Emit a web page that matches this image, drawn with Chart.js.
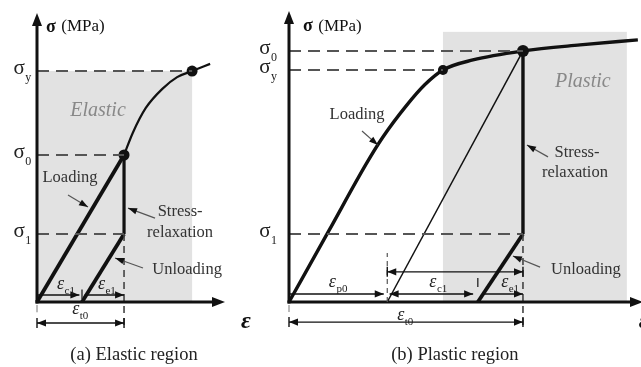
<!DOCTYPE html>
<html><head><meta charset="utf-8">
<script src="https://cdn.jsdelivr.net/npm/chart.js@4/dist/chart.umd.min.js"></script>
<style>
html,body{margin:0;padding:0;background:#fff;overflow:hidden;width:641px;height:367px;}
#wrapA{position:absolute;left:0;top:0;width:260px;height:367px;}
#wrapB{position:absolute;left:240px;top:0;width:430px;height:367px;}
</style></head>
<body>
<div id="wrapA"><canvas id="ca" width="260" height="367"></canvas></div>
<div id="wrapB"><canvas id="cb" width="430" height="367"></canvas></div>
<script>
// ---------- Panel (a): elastic region (strain normalised by ε_t0, stress by σ0) ----------
const aCurveStrain = [1.0, 1.10, 1.25, 1.44, 1.61, 1.782, 1.989];
const aCurveStress = [1.0, 1.15, 1.32, 1.45, 1.53, 1.571, 1.62];
const aStressLevels = [0.463, 1.0, 1.571];          // σ1, σ0, σy
const aStressNames  = ['1', '0', 'y'];
const aStrainMarks  = [0.517, 1.0, 1.782];          // unloading intercept, ε_t0, yield strain
const aStrainNames  = ['c1', 'e1', 't0'];

// ---------- Panel (b): plastic region ----------
const bCurveStrain = [0, 0.17, 0.33, 0.40, 0.50, 0.58, 0.658, 0.786, 1.0, 1.244, 1.491];
const bCurveStress = [0, 0.283, 0.55, 0.655, 0.78, 0.865, 0.924, 0.964, 1.0, 1.024, 1.044];
const bStressLevels = [0.271, 0.924, 1.0];          // σ1, σy, σ0
const bStressNames  = ['1', 'y', '0'];
const bStrainMarks  = [0.42, 0.807, 1.0, 0.658];    // ε_p0, unloading intercept, ε_t0, yield strain
const bStrainNames  = ['p0', 'c1', 'e1', 't0'];

// ---------- helpers ----------
const xy = (xs, ys) => xs.map((x, i) => ({x, y: ys[i]}));
const ds = (pts, o) => Object.assign({data: pts, showLine: true, pointRadius: 0, pointHoverRadius: 0,
  borderColor: '#111', backgroundColor: '#111', borderWidth: 2, fill: false, clip: false, tension: 0}, o);
const DASH = {borderColor: '#555', borderWidth: 2, borderDash: [12, 7]};
const SERIF = '"Liberation Serif", "Times New Roman", serif';

function head(ctx, x1, y1, x2, y2, len, hw) {
  const a = Math.atan2(y2 - y1, x2 - x1), c = Math.cos(a), s = Math.sin(a);
  ctx.beginPath();
  ctx.moveTo(x2, y2);
  ctx.lineTo(x2 - len * c + hw * s, y2 - len * s - hw * c);
  ctx.lineTo(x2 - len * c - hw * s, y2 - len * s + hw * c);
  ctx.closePath(); ctx.fill();
}
function subText(ctx, cx, cy, main, sub, mainFont, subFont, subDy, align) {
  ctx.font = mainFont; const w1 = ctx.measureText(main).width;
  ctx.font = subFont; const w2 = ctx.measureText(sub).width;
  let x0 = align === 'right' ? cx - w1 - w2 : cx - (w1 + w2) / 2;
  ctx.textAlign = 'left'; ctx.textBaseline = 'alphabetic';
  ctx.font = mainFont; ctx.fillText(main, x0, cy);
  ctx.font = subFont; ctx.fillText(sub, x0 + w1 + 0.5, cy + subDy);
}

const sketch = {
  id: 'sketch',
  beforeDatasetsDraw(chart, args, o) {
    const {ctx} = chart, X = v => chart.scales.x.getPixelForValue(v), Y = v => chart.scales.y.getPixelForValue(v);
    const r = o.region;
    ctx.save(); ctx.fillStyle = '#e2e2e2';
    ctx.fillRect(X(r.x0), Y(r.y1), X(r.x1) - X(r.x0), Y(r.y0) - Y(r.y1));
    ctx.restore();
  },
  afterDatasetsDraw(chart, args, o) {
    const {ctx} = chart, sx = chart.scales.x, sy = chart.scales.y;
    const X = v => sx.getPixelForValue(v), Y = v => sy.getPixelForValue(v);
    ctx.save();
    // axes with arrowheads
    ctx.strokeStyle = '#111'; ctx.fillStyle = '#111'; ctx.lineWidth = 3;
    ctx.beginPath(); ctx.moveTo(X(0), Y(0) + 1.5); ctx.lineTo(X(0), Y(sy.max) + 8); ctx.stroke();
    head(ctx, X(0), Y(0), X(0), Y(sy.max), 13, 5);
    ctx.beginPath(); ctx.moveTo(X(0) - 1.5, Y(0)); ctx.lineTo(X(sx.max) - 8, Y(0)); ctx.stroke();
    head(ctx, X(0), Y(0), X(sx.max), Y(0), 13, 5);
    // small ticks / dash-dot marks
    for (const t of o.ticks) {
      ctx.save(); ctx.lineWidth = t.w || 1.3; ctx.strokeStyle = t.c || '#222';
      if (t.dash) ctx.setLineDash(t.dash);
      ctx.beginPath(); ctx.moveTo(X(t.x), Y(t.y1)); ctx.lineTo(X(t.x), Y(t.y2)); ctx.stroke();
      ctx.restore();
    }
    // dimension arrows
    for (const d of o.dims) {
      const x1 = X(d.x1), x2 = X(d.x2), y = Y(d.y);
      ctx.lineWidth = 1.4; ctx.strokeStyle = '#111'; ctx.fillStyle = '#111';
      ctx.beginPath(); ctx.moveTo(x1, y); ctx.lineTo(x2, y); ctx.stroke();
      if (d.heads === 'end' || d.heads === 'both') head(ctx, x1, y, x2, y, 9, 3.6);
      if (d.heads === 'start' || d.heads === 'both') head(ctx, x2, y, x1, y, 9, 3.6);
      if (d.bars) {
        ctx.lineWidth = 1.4;
        ctx.beginPath(); ctx.moveTo(x1, y - 5); ctx.lineTo(x1, y + 5);
        ctx.moveTo(x2, y - 5); ctx.lineTo(x2, y + 5); ctx.stroke();
      }
    }
    // leader arrows
    for (const n of o.notes) {
      const x1 = X(n.from[0]), y1 = Y(n.from[1]), x2 = X(n.to[0]), y2 = Y(n.to[1]);
      ctx.lineWidth = 1.2; ctx.strokeStyle = '#555'; ctx.fillStyle = '#111';
      ctx.beginPath(); ctx.moveTo(x1, y1); ctx.lineTo(x2, y2); ctx.stroke();
      head(ctx, x1, y1, x2, y2, 9, 3.2);
    }
    // plain texts
    for (const t of o.texts) {
      ctx.font = t.font; ctx.fillStyle = t.color || '#333';
      ctx.textAlign = 'center'; ctx.textBaseline = 'middle';
      ctx.fillText(t.text, X(t.x), Y(t.y));
    }
    // sigma level labels
    ctx.fillStyle = '#222';
    for (const s of o.sigmas) {
      subText(ctx, X(o.sigmaX), Y(s.y) + 3, 'σ', s.sub, '21px ' + SERIF, '12px ' + SERIF, 7, 'center');
    }
    // epsilon labels
    for (const e of o.eps) {
      subText(ctx, X(e.x), Y(e.y) + 4, 'ε', e.sub, 'italic 18px ' + SERIF, '11px ' + SERIF, 5, 'center');
    }
    // axis titles
    const yl = o.yLabel;
    ctx.textAlign = 'left'; ctx.textBaseline = 'middle'; ctx.fillStyle = '#111';
    ctx.font = 'bold 18px ' + SERIF; ctx.fillText('σ', X(yl.x), Y(yl.y));
    const ws = ctx.measureText('σ ').width;
    ctx.font = '17px ' + SERIF; ctx.fillText('(MPa)', X(yl.x) + ws + 1, Y(yl.y));
    ctx.font = 'bold italic 24px ' + SERIF; ctx.textAlign = 'center';
    ctx.fillText('ε', X(o.xLabel.x), Y(o.xLabel.y));
    // caption
    ctx.font = '18.5px ' + SERIF; ctx.fillStyle = '#222'; ctx.textAlign = 'center';
    ctx.fillText(o.caption.text, X(o.caption.x), Y(o.caption.y));
    ctx.restore();
  }
};

function makeChart(id, datasets, xmax, ymax, padding, cfg) {
  return new Chart(document.getElementById(id), {
    type: 'scatter',
    data: {datasets},
    options: {
      responsive: false, animation: false, events: [],
      layout: {padding},
      scales: {
        x: {type: 'linear', min: 0, max: xmax, display: false},
        y: {type: 'linear', min: 0, max: ymax, display: false}
      },
      plugins: {legend: {display: false}, tooltip: {enabled: false}, sketch: cfg}
    },
    plugins: [sketch]
  });
}

// ---------- Panel (a) ----------
(() => {
  const [s1, s0, sY] = aStressLevels;
  const [ec, et, ey] = aStrainMarks;
  const datasets = [
    ds([{x: 0, y: sY}, {x: ey, y: sY}], DASH),
    ds([{x: 0, y: s0}, {x: et, y: s0}], DASH),
    ds([{x: 0, y: s1}, {x: et, y: s1}], DASH),
    ds([{x: et, y: s1}, {x: et, y: -0.19}], {borderColor: '#444', borderWidth: 1.6, borderDash: [7, 5]}),
    ds([{x: 0, y: 0}, {x: et, y: s0}], {borderWidth: 3.8}),
    ds(xy(aCurveStrain, aCurveStress), {borderWidth: 2.2, cubicInterpolationMode: 'monotone'}),
    ds([{x: et, y: s0}, {x: et, y: s1}], {borderWidth: 3.2}),
    ds([{x: ec, y: 0}, {x: et, y: s1}], {borderWidth: 3.8}),
    ds([{x: et, y: s0}, {x: ey, y: sY}], {showLine: false, pointRadius: 5.5, pointBackgroundColor: '#111', pointBorderWidth: 0})
  ];
  makeChart('ca', datasets, 2.16, 1.966, {left: 37, right: 35, top: 13, bottom: 65}, {
    region: {x0: 0, x1: ey, y0: 0, y1: sY},
    sigmaX: -0.17,
    sigmas: aStressNames.map((n, i) => ({sub: n, y: aStressLevels[i]})),
    yLabel: {x: 0.103, y: 1.871},
    xLabel: {x: 2.40, y: -0.136},
    caption: {text: '(a) Elastic region', x: 1.115, y: -0.36},
    ticks: [
      {x: ec, y1: 0.02, y2: 0.085},
      {x: 0, y1: -0.02, y2: -0.07, c: '#777', w: 1}
    ],
    dims: [
      {x1: 0, x2: ec - 0.03, y: 0.048, heads: 'end'},
      {x1: ec + 0.03, x2: et, y: 0.048, heads: 'end'},
      {x1: 0, x2: et, y: -0.143, heads: 'both', bars: true}
    ],
    notes: [
      {from: [0.356, 0.728], to: [0.586, 0.646]},
      {from: [1.356, 0.571], to: [1.046, 0.639]},
      {from: [1.218, 0.231], to: [0.897, 0.299]}
    ],
    texts: [
      {text: 'Elastic', x: 0.701, y: 1.30, font: 'italic 20px ' + SERIF, color: '#888'},
      {text: 'Loading', x: 0.379, y: 0.844, font: '16.5px ' + SERIF},
      {text: 'Stress-', x: 1.644, y: 0.612, font: '16.5px ' + SERIF},
      {text: 'relaxation', x: 1.644, y: 0.469, font: '16.5px ' + SERIF},
      {text: 'Unloading', x: 1.724, y: 0.218, font: '16.5px ' + SERIF}
    ],
    eps: [
      {sub: aStrainNames[0], x: 0.33, y: 0.116},
      {sub: aStrainNames[1], x: 0.80, y: 0.116},
      {sub: aStrainNames[2], x: 0.494, y: -0.054}
    ]
  });
})();

// ---------- Panel (b) ----------
(() => {
  const [s1, sY, s0] = bStressLevels;
  const [ep, eu, et, ey] = bStrainMarks;
  const datasets = [
    ds([{x: 0, y: s0}, {x: et, y: s0}], DASH),
    ds([{x: 0, y: sY}, {x: ey, y: sY}], DASH),
    ds([{x: 0, y: s1}, {x: et, y: s1}], DASH),
    ds([{x: et, y: s1}, {x: et, y: -0.112}], {borderColor: '#444', borderWidth: 1.6, borderDash: [7, 5]}),
    ds(xy(bCurveStrain, bCurveStress), {borderWidth: 3.4, cubicInterpolationMode: 'monotone'}),
    ds([{x: ep, y: 0}, {x: et, y: s0}], {borderWidth: 1.5}),
    ds([{x: et, y: s0}, {x: et, y: s1}], {borderWidth: 3.4}),
    ds([{x: eu, y: 0}, {x: et, y: s1}], {borderWidth: 3.8}),
    ds([{x: ey, y: sY}, {x: et, y: s0}], {showLine: false, pointRadius: [5, 6], pointBackgroundColor: '#111', pointBorderWidth: 0})
  ];
  makeChart('cb', datasets, 1.513, 1.159, {left: 49, right: 27, top: 11, bottom: 65}, {
    region: {x0: ey, x1: 1.444, y0: 0, y1: 1.076},
    sigmaX: -0.09,
    sigmas: bStressNames.map((n, i) => ({sub: n, y: bStressLevels[i]})),
    yLabel: {x: 0.06, y: 1.096},
    xLabel: {x: 1.516, y: -0.08},
    caption: {text: '(b) Plastic region', x: 0.709, y: -0.211},
    ticks: [
      {x: eu, y1: 0.06, y2: 0.096},
      {x: ep, y1: 0.0, y2: 0.195, dash: [5, 4], c: '#555', w: 1.2},
      {x: 0, y1: -0.012, y2: -0.04, c: '#777', w: 1}
    ],
    dims: [
      {x1: 0, x2: ep - 0.015, y: 0.032, heads: 'end'},
      {x1: ep + 0.01, x2: eu - 0.02, y: 0.032, heads: 'both'},
      {x1: eu + 0.02, x2: et, y: 0.032, heads: 'end'},
      {x1: ep, x2: et, y: 0.12, heads: 'both', bars: true},
      {x1: 0, x2: et, y: -0.08, heads: 'both', bars: true}
    ],
    notes: [
      {from: [0.312, 0.681], to: [0.380, 0.625]},
      {from: [1.107, 0.578], to: [1.017, 0.625]},
      {from: [1.073, 0.139], to: [0.957, 0.183]}
    ],
    texts: [
      {text: 'Plastic', x: 1.256, y: 0.876, font: 'italic 20px ' + SERIF, color: '#888'},
      {text: 'Loading', x: 0.291, y: 0.745, font: '16.5px ' + SERIF},
      {text: 'Stress-', x: 1.231, y: 0.594, font: '16.5px ' + SERIF},
      {text: 'relaxation', x: 1.222, y: 0.514, font: '16.5px ' + SERIF},
      {text: 'Unloading', x: 1.269, y: 0.127, font: '16.5px ' + SERIF}
    ],
    eps: [
      {sub: bStrainNames[0], x: 0.209, y: 0.076},
      {sub: bStrainNames[1], x: 0.637, y: 0.076},
      {sub: bStrainNames[2], x: 0.944, y: 0.076},
      {sub: bStrainNames[3], x: 0.496, y: -0.056}
    ]
  });
})();
</script>
</body></html>
